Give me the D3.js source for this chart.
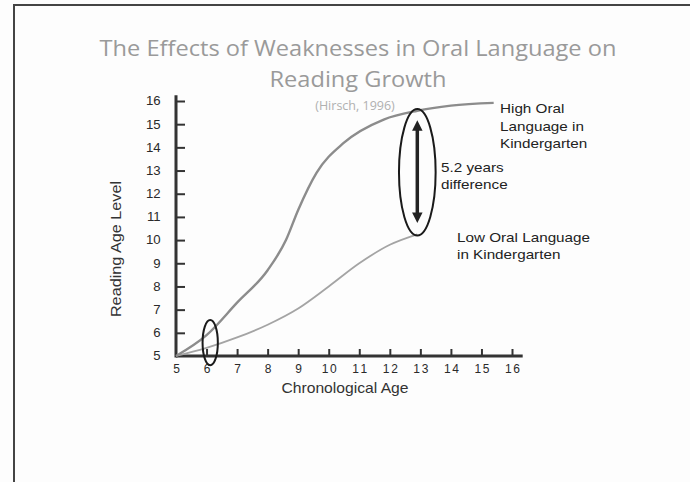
<!DOCTYPE html>
<html>
<head>
<meta charset="utf-8">
<script src="https://cdn.jsdelivr.net/npm/d3@7"></script>
<style>
  body { margin: 0; background: #fdfdfd; }
  svg { display: block; }
</style>
</head>
<body>
<div id="chart"></div>
<script>
// values
const ageTicks = [5, 6, 7, 8, 9, 10, 11, 12, 13, 14, 15, 16];
const levelTicks = [5, 6, 7, 8, 9, 10, 11, 12, 13, 14, 15, 16];

const highAge   = [5, 6, 7, 8, 8.6, 9, 9.6, 10.5, 11.8, 12.9, 14, 15.4];
const highLevel = [5, 5.9, 7.3, 8.7, 10, 11.3, 12.9, 14.2, 15.2, 15.58, 15.8, 15.92];

const lowAge   = [5, 6, 7, 8, 9, 10, 11, 12, 12.9];
const lowLevel = [5, 5.35, 5.8, 6.35, 7.05, 8, 9, 9.8, 10.25];

const width = 690, height = 482;

const svg = d3.select("#chart")
  .append("svg")
    .attr("width", width)
    .attr("height", height);

// slide frame
svg.append("rect")
  .attr("x", 14).attr("y", 5)
  .attr("width", width).attr("height", height)
  .attr("fill", "#fdfdfd")
  .attr("stroke", "#444")
  .attr("stroke-width", 2);

const x = d3.scaleLinear().domain([5, 16]).range([176, 512]);
const y = d3.scaleLinear().domain([5, 16]).range([356, 101]);

// text in the picture is a bit stretched sideways
function wideText(tx, ty, size, s, sx) {
  return svg.append("text")
    .attr("transform", `translate(${tx},${ty}) scale(${sx},1)`)
    .attr("font-family", "Liberation Sans")
    .attr("font-size", size)
    .attr("fill", "#222")
    .text(s);
}

// title
const title = svg.append("g")
  .attr("font-family", "Open Sans")
  .attr("fill", "#9a9a9a")
  .attr("text-anchor", "middle");
title.append("text")
  .attr("transform", "translate(358,56) scale(1.05,1)")
  .attr("font-size", 22.5)
  .text("The Effects of Weaknesses in Oral Language on");
title.append("text")
  .attr("transform", "translate(358,87) scale(1.05,1)")
  .attr("font-size", 22.5)
  .text("Reading Growth");
title.append("text")
  .attr("x", 355).attr("y", 110)
  .attr("font-size", 12.5)
  .attr("fill", "#b0b0b0")
  .text("(Hirsch, 1996)");

// axes
const xAxis = svg.append("g")
  .attr("transform", `translate(0,${y(5)})`)
  .call(d3.axisBottom(x).tickValues(ageTicks).tickSize(-7).tickPadding(8).tickSizeOuter(0))
  .call(g => g.select(".domain").remove());
xAxis.selectAll(".tick").filter(d => d === 5).select("line").remove();

const yAxis = svg.append("g")
  .attr("transform", `translate(${x(5)},0)`)
  .call(d3.axisLeft(y).tickValues(levelTicks).tickSize(-9).tickPadding(14).tickSizeOuter(0))
  .call(g => g.select(".domain").remove());
yAxis.selectAll(".tick").filter(d => d === 5).select("line").remove();

svg.selectAll(".tick text")
  .attr("font-family", "Liberation Sans")
  .attr("font-size", 12)
  .attr("fill", "#2a2a2a")
  .attr("transform", "scale(1.1,1)");
xAxis.selectAll(".tick text")
  .attr("transform", null)
  .attr("textLength", d => d >= 10 ? 15 : 8);
svg.selectAll(".tick line")
  .attr("stroke", "#333")
  .attr("stroke-width", 2);

// heavy axis lines
svg.append("line")
  .attr("x1", x(5)).attr("x2", x(16.35))
  .attr("y1", y(5)).attr("y2", y(5))
  .attr("stroke", "#333").attr("stroke-width", 3);
svg.append("line")
  .attr("x1", x(5)).attr("x2", x(5))
  .attr("y1", y(5) + 1.5).attr("y2", y(16.25))
  .attr("stroke", "#333").attr("stroke-width", 3);

// axis titles
wideText(345, 393, 14.5, "Chronological Age", 1.08).attr("text-anchor", "middle").attr("fill", "#333");
svg.append("text")
  .attr("transform", `translate(121,249) rotate(-90) scale(1.12,1)`)
  .attr("text-anchor", "middle")
  .attr("font-family", "Liberation Sans")
  .attr("font-size", 14.5)
  .attr("fill", "#333")
  .text("Reading Age Level");

// growth curves
const line = d3.line()
  .x(d => x(d[0]))
  .y(d => y(d[1]))
  .curve(d3.curveMonotoneX);

svg.append("path")
  .datum(d3.zip(lowAge, lowLevel))
  .attr("fill", "none")
  .attr("stroke", "#a4a4a4")
  .attr("stroke-width", 1.8)
  .attr("d", line);

svg.append("path")
  .datum(d3.zip(highAge, highLevel))
  .attr("fill", "none")
  .attr("stroke", "#8c8c8c")
  .attr("stroke-width", 2.4)
  .attr("d", line);

// ellipses marking the gap
function ring(age, halfAge, top, bottom) {
  svg.append("ellipse")
    .attr("cx", x(age))
    .attr("cy", (y(top) + y(bottom)) / 2)
    .attr("rx", x(age + halfAge) - x(age))
    .attr("ry", (y(bottom) - y(top)) / 2)
    .attr("fill", "none")
    .attr("stroke", "#1a1a1a")
    .attr("stroke-width", 2);
}
ring(6.12, 0.25, 6.55, 4.6);
ring(12.9, 0.6, 15.65, 10.2);

// double-headed arrow
svg.append("defs").append("marker")
  .attr("id", "head")
  .attr("viewBox", "0 0 10 10")
  .attr("refX", 3).attr("refY", 5)
  .attr("markerWidth", 4).attr("markerHeight", 3)
  .attr("orient", "auto-start-reverse")
  .append("path")
    .attr("d", "M0,0L10,5L0,10Z")
    .attr("fill", "#222");

svg.append("line")
  .attr("x1", x(12.9)).attr("x2", x(12.9))
  .attr("y1", y(11.05)).attr("y2", y(14.85))
  .attr("stroke", "#222")
  .attr("stroke-width", 3.5)
  .attr("marker-start", "url(#head)")
  .attr("marker-end", "url(#head)");

// annotations
function label(lines, lx, ly, step) {
  lines.forEach((s, i) => wideText(lx, ly + i * step, 13.5, s, 1.13));
}
label(["High Oral", "Language in", "Kindergarten"], 500, 113, 17.5);
label(["5.2 years", "difference"], 441, 172, 16.5);
label(["Low Oral Language", "in Kindergarten"], 457, 242, 17);
</script>
</body>
</html>
